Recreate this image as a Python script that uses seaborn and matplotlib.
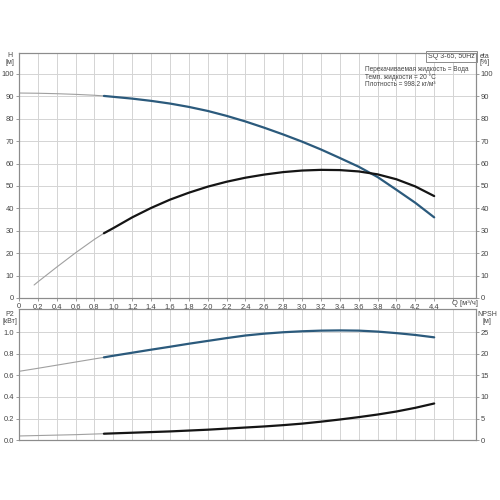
import numpy as np
import pandas as pd
import matplotlib
matplotlib.use("Agg")
import matplotlib.pyplot as plt
import seaborn as sns
from matplotlib.ticker import FixedLocator, FuncFormatter

# ==============================
# DATOS
# ==============================

Q = [0.0, 0.2, 0.4, 0.6, 0.8, 0.9, 1.0, 1.2, 1.4, 1.6, 1.8, 2.0, 2.2,
     2.4, 2.6, 2.8, 3.0, 3.2, 3.4, 3.6, 3.8, 4.0, 4.2, 4.4]
H = [91.5, 91.4, 91.2, 90.9, 90.5, 90.2, 89.8, 89.0, 88.0, 86.8, 85.3, 83.5,
     81.3, 78.8, 76.0, 73.0, 69.8, 66.3, 62.5, 58.6, 54.0, 48.3, 42.5, 36.0]
P2 = [0.637, 0.665, 0.694, 0.723, 0.752, 0.766, 0.781, 0.809, 0.837, 0.864,
      0.892, 0.918, 0.944, 0.968, 0.985, 0.998, 1.007, 1.013, 1.015, 1.013,
      1.004, 0.990, 0.973, 0.951]
NPSH = [1.0, 1.1, 1.2, 1.3, 1.45, 1.52, 1.6, 1.75, 1.9, 2.05, 2.25, 2.45,
        2.7, 2.95, 3.2, 3.5, 3.85, 4.3, 4.8, 5.35, 5.95, 6.65, 7.5, 8.5]

Q_ETA = [0.16, 0.2, 0.4, 0.6, 0.8, 0.9, 1.0, 1.2, 1.4, 1.6, 1.8, 2.0, 2.2,
         2.4, 2.6, 2.8, 3.0, 3.2, 3.4, 3.6, 3.8, 4.0, 4.2, 4.4]
ETA = [5.8, 7.2, 13.8, 20.2, 26.2, 28.9, 31.2, 36.0, 40.2, 43.9, 47.0, 49.7,
       51.9, 53.7, 55.1, 56.2, 56.9, 57.2, 57.1, 56.5, 55.2, 53.0, 49.8, 45.5]

Q_INICIO = 0.9  # inicio del rango de trabajo (línea gruesa)

X_TICKS = [round(0.2 * i, 1) for i in range(23)]
X_GRID = X_TICKS + [4.6]

INFO = ["Перекачиваемая жидкость = Вода",
        "Темп. жидкости = 20 °C",
        "Плотность = 998.2 кг/м³"]
MODELO = "SQ 3-65, 50Hz"

# ==============================
# ESTILO
# ==============================

sns.set_theme(style="whitegrid")
plt.rcParams["font.family"] = ["Liberation Sans", "DejaVu Sans"]

AZUL = "#2b5a7c"
NEGRO = "#151515"
GRIS = "#a0a0a0"
TXT = "#444444"
BORDE = "#8c8c8c"
FS = 5.4
FS_INFO = 4.7

W = H_PX = 500.0


def caja(left, top, right, bottom):
    return [left / W, 1 - bottom / H_PX, (right - left) / W, (bottom - top) / H_PX]


def curva(ax, q, y, color):
    df = pd.DataFrame({"Q": q, "y": y})
    fino = df[df["Q"] <= Q_INICIO]
    grueso = df[df["Q"] >= Q_INICIO]
    sns.lineplot(data=fino, x="Q", y="y", ax=ax, color=GRIS, linewidth=0.8,
                 sort=False, estimator=None)
    sns.lineplot(data=grueso, x="Q", y="y", ax=ax, color=color, linewidth=1.6,
                 sort=False, estimator=None)
    ax.set_xlabel("")
    ax.set_ylabel("")


def bordes(ax):
    for s in ax.spines.values():
        s.set_color(BORDE)
        s.set_linewidth(0.8)


def preparar(ax, ylim, yticks, fmt):
    ax.set_xlim(0, 4.84)
    ax.set_ylim(*ylim)
    ax.xaxis.set_major_locator(FixedLocator(X_GRID))
    ax.yaxis.set_major_locator(FixedLocator(yticks))
    ax.yaxis.set_major_formatter(FuncFormatter(fmt))
    ax.grid(True, color="#d4d4d4", linewidth=0.7)
    bordes(ax)
    ax.tick_params(axis="y", labelsize=FS, colors=TXT, length=2, width=0.6,
                   pad=1.5, left=True, color=BORDE)
    ax.tick_params(axis="x", labelsize=FS, colors=TXT, length=2, width=0.6,
                   pad=1.5, bottom=True, color=BORDE)


def derecho(ax, ylim, yticks):
    ax.set_ylim(*ylim)
    ax.yaxis.set_major_locator(FixedLocator(yticks))
    ax.grid(False)
    bordes(ax)
    ax.tick_params(axis="y", labelsize=FS, colors=TXT, length=2, width=0.6,
                   pad=1.5, right=True, color=BORDE)


def fmt_x(v, pos):
    if v > 4.45:
        return ""
    return f"{v:.1f}".replace(".", ",") if v > 0 else "0"


fig = plt.figure(figsize=(5, 5), dpi=100)
fig.patch.set_facecolor("white")

# ==============================
# PANEL SUPERIOR: H y eta
# ==============================

ax1 = fig.add_axes(caja(19, 52.7, 475.7, 298))
curva(ax1, Q, H, AZUL)
curva(ax1, Q_ETA, ETA, NEGRO)
preparar(ax1, (0, 109.5), list(range(0, 101, 10)), lambda v, p: f"{v:.0f}")
ax1.xaxis.set_major_formatter(FuncFormatter(fmt_x))

ax1r = ax1.twinx()
derecho(ax1r, (0, 109.5), list(range(0, 101, 10)))

fig.text(465 / W, 1 - 303.5 / H_PX, "Q [м³/ч]", ha="center", va="center",
         fontsize=FS, color=TXT)

ax1.text(0.9985, 0.9985, MODELO, transform=ax1.transAxes, ha="right", va="top",
         fontsize=5.0, color=TXT,
         bbox=dict(boxstyle="square,pad=0.3", fc="white", ec=BORDE, lw=0.7))
for i, linea in enumerate(INFO):
    fig.text(365 / W, 1 - (69.5 + 7.4 * i) / H_PX, linea, ha="left", va="center",
             fontsize=FS_INFO, color=TXT)

# ==============================
# PANEL INFERIOR: P2 y NPSH
# ==============================

ax2 = fig.add_axes(caja(19, 309.3, 475.7, 440.3))
curva(ax2, Q, P2, AZUL)
preparar(ax2, (0, 1.21), [0, 0.2, 0.4, 0.6, 0.8, 1.0], lambda v, p: f"{v:.1f}")
ax2.tick_params(axis="x", labelbottom=False, length=0)

ax2r = ax2.twinx()
curva(ax2r, Q, NPSH, NEGRO)
ax2r.set_xlim(0, 4.84)
derecho(ax2r, (0, 30.25), [0, 5, 10, 15, 20, 25])

# ==============================
# ETIQUETAS DE EJES
# ==============================

etiquetas = [
    (10, 55.5, "H"), (10, 63, "[м]"),
    (485, 56, "eta"), (485, 63, "[%]"),
    (10, 314, "P2"), (10, 321.5, "[кВт]"),
    (487, 314, "NPSH"), (487, 321.5, "[м]"),
]
for x, y, t in etiquetas:
    fig.text(x / W, 1 - y / H_PX, t, ha="center", va="center",
             fontsize=5.0, color=TXT)

fig.savefig("out.png", dpi=100, facecolor="white")
